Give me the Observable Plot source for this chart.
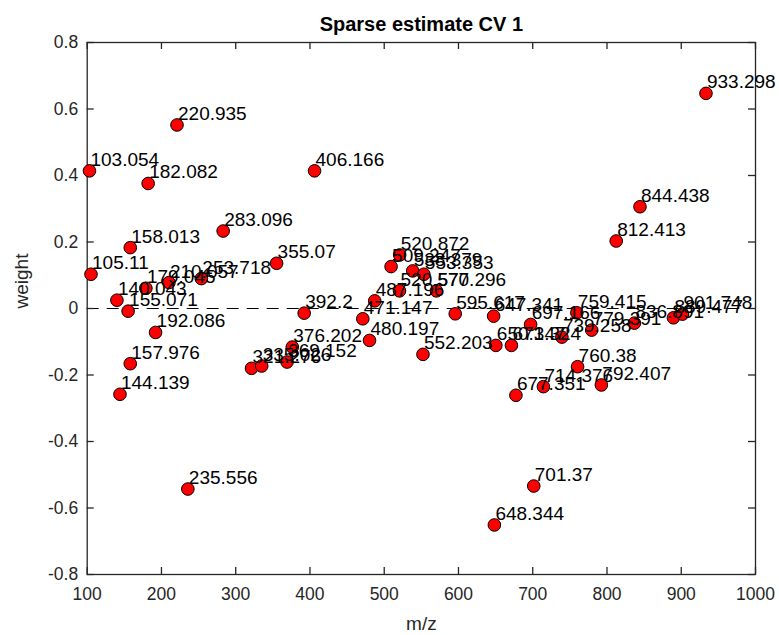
<!DOCTYPE html>
<html><head><meta charset="utf-8">
<script src="https://cdn.jsdelivr.net/npm/d3@7"></script>
<script src="https://cdn.jsdelivr.net/npm/@observablehq/plot@0.6"></script>
<style>body{margin:0;background:#fff;} #chart{width:779px;height:635px;}</style>
</head><body><div id="chart"></div>
<script>
const mzLabels = ["103.054","105.11","140.043","144.139","155.071","157.976","158.013","179.045","182.082","192.086",
  "210.057","220.935","235.556","253.718","283.096","321.276","335.026","355.07","369.152","376.202",
  "392.2","406.166","471.147","480.197","487.196","509.247","520.872","520.577","538.379","552.203",
  "553.353","570.296","595.617","647.341","648.344","650.347","671.324","677.351","697.166","701.37",
  "714.376","739.258","759.415","760.38","779.391","792.407","812.413","836.891","844.438","889.477",
  "901.748","933.298"];
const weights = [0.414,0.103,0.025,-0.258,-0.008,-0.166,0.183,0.061,0.376,-0.072,
  0.078,0.552,-0.543,0.090,0.233,-0.180,-0.173,0.136,-0.161,-0.116,
  -0.014,0.414,-0.031,-0.096,0.023,0.126,0.161,0.053,0.113,-0.138,
  0.103,0.053,-0.016,-0.023,-0.651,-0.111,-0.111,-0.261,-0.048,-0.534,
  -0.235,-0.086,-0.013,-0.175,-0.065,-0.230,0.203,-0.044,0.306,-0.028,
  -0.017,0.647];
const xTicks = [100,200,300,400,500,600,700,800,900,1000];
const yTicks = [-0.8,-0.6,-0.4,-0.2,0,0.2,0.4,0.6,0.8];
const title = "Sparse estimate CV 1";
const xLabel = "m/z";
const yLabel = "weight";

const data = mzLabels.map((s, i) => ({mz: +s, w: weights[i], label: s}));
const W = 779, H = 635, mL = 86.7, mR = 24, mT = 42, mB = 61;
const plotW = W - mL - mR, plotH = H - mT - mB, tk = 7;
const font = '"Liberation Sans", Arial, Helvetica, sans-serif';
const axisColor = "#262626";

const chart = Plot.plot({
  width: W, height: H,
  marginLeft: mL, marginRight: mR, marginTop: mT, marginBottom: mB,
  style: {fontFamily: font, background: "#fff", color: axisColor},
  x: {domain: [100, 1000]},
  y: {domain: [-0.8, 0.8]},
  marks: [
    Plot.ruleY([0], {stroke: "#000", strokeWidth: 1, strokeDasharray: "12,8"}),
    Plot.tickX(xTicks, {x: d => d, insetTop: plotH - tk, stroke: axisColor, strokeWidth: 1.3}),
    Plot.tickX(xTicks, {x: d => d, insetBottom: plotH - tk, stroke: axisColor, strokeWidth: 1.3}),
    Plot.tickY(yTicks, {y: d => d, insetRight: plotW - tk, stroke: axisColor, strokeWidth: 1.3}),
    Plot.tickY(yTicks, {y: d => d, insetLeft: plotW - tk, stroke: axisColor, strokeWidth: 1.3}),
    Plot.axisX(xTicks, {tickSize: 0, tickPadding: 13, fontSize: 17.5, tickFormat: d => String(d), label: null, fill: axisColor}),
    Plot.axisY(yTicks, {tickSize: 0, tickPadding: 9, fontSize: 17.5, tickFormat: d => d === 0 ? "0" : d.toFixed(1), label: null, fill: axisColor}),
    Plot.frame({stroke: axisColor, strokeWidth: 1.3}),
    Plot.dot(data, {x: "mz", y: "w", r: 6.3, fill: "#ff0000", stroke: "#000", strokeWidth: 1}),
    Plot.text(data, {x: "mz", y: "w", text: "label", textAnchor: "start", lineAnchor: "bottom", dx: 1, dy: -5, fontSize: 19, fill: "#000"}),
    Plot.text([title], {frameAnchor: "top", lineAnchor: "bottom", dy: -12, fontSize: 20, fontWeight: "bold", fill: "#000"}),
    Plot.text([xLabel], {frameAnchor: "bottom", lineAnchor: "bottom", dy: 55, fontSize: 19, fill: axisColor}),
    Plot.text([yLabel], {frameAnchor: "left", rotate: -90, lineAnchor: "top", dx: -73, fontSize: 19, fill: axisColor})
  ]
});
document.getElementById("chart").appendChild(chart);
</script>
</body></html>
